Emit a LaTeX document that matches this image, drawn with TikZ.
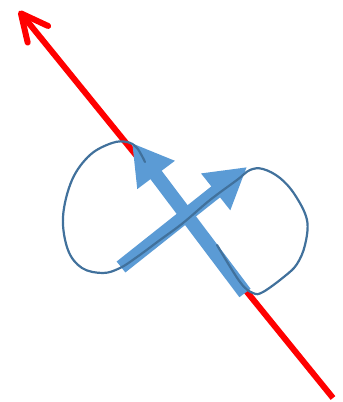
\documentclass[tikz,border=0pt]{standalone}
\usepackage{tikz}
\usetikzlibrary{arrows.meta}
\definecolor{axisred}{HTML}{FF0000}
\definecolor{spinblue}{HTML}{5B9BD5}
\definecolor{loopblue}{HTML}{41719C}
\tikzset{
  axis/.style ={draw=axisred, line width=6pt,
                -{Straight Barb[angle=52:30pt, line cap=round, line join=round]}},
  spin/.style ={draw=spinblue, line width=14pt,
                -{Triangle[length=40pt, width=44pt]}},
  orbit/.style={draw=loopblue, line width=2.2pt, line cap=round}
}
\begin{document}
\begin{tikzpicture}[x=1pt, y=-1pt]
\useasboundingbox (0,0) rectangle (343,402);
% red axis
\coordinate (axlow)  at (333,398);
\coordinate (axhigh) at (19,11);
\draw[axis] (axlow) -- (axhigh);
% the two blue arrows
\coordinate (atail) at (245,293);
\coordinate (ahead) at (132,143);
\coordinate (btail) at (121,267);
\coordinate (bhead) at (247,167);
\draw[spin] (atail) -- (ahead);
\draw[spin] (btail) -- (bhead);
% the loop
\draw[orbit] plot[smooth, tension=0.6] coordinates {
  (145,162) (137,148) (127,142) (112,143) (90,155) (72,180) (63,217)
  (68,250) (82,268) (103,273) (120,268) (137,257) (160,240) (183,223)
  (210,200) (237,180) (250,170) (263,169) (280,178) (295,195) (307,220)
  (305,245) (297,264) (285,276) (263,292) (253,293) (240,282) (217,245)};
\end{tikzpicture}
\end{document}
